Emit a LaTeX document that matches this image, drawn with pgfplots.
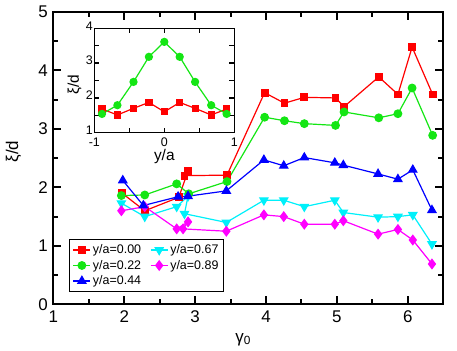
\documentclass[border=0pt]{standalone}
\usepackage{fontspec}
\setmainfont{Liberation Sans}
\usepackage{pgfplots}
\pgfplotsset{compat=1.18}
\definecolor{cred}{RGB}{255,0,0}
\definecolor{cgreen}{RGB}{20,230,20}
\definecolor{cblue}{RGB}{0,0,255}
\definecolor{ccyan}{RGB}{0,240,250}
\definecolor{cmag}{RGB}{255,0,255}

\pgfplotsset{
  common/.style={
    scale only axis,
    /pgf/number format/assume math mode=true,
    tick align=inside,
    minor tick num=1,
    tick style={black},
  },
  sq/.style={cred, line width=1.2bp, mark=square*, mark size=3.3bp, mark options={solid}},
  ci/.style={cgreen, line width=1.2bp, mark=*, mark size=3.8bp, mark options={solid}},
  tu/.style={cblue, line width=1.2bp, mark=triangle*, mark size=4.6bp, mark options={solid}},
  td/.style={ccyan, line width=1.2bp, mark=triangle*, mark size=4.6bp, mark options={solid, rotate=180}},
  di/.style={cmag, line width=1.2bp, mark=diamond*, mark size=4.6bp, mark options={solid}},
}

\begin{document}
\begin{tikzpicture}
\useasboundingbox (0,0) rectangle (457bp,351bp);
\begin{axis}[
  common,
  at={(53.3bp,46.7bp)}, anchor=south west,
  width=390bp, height=292.3bp,
  xmin=1, xmax=6.5, ymin=0, ymax=5,
  xtick={1,2,3,4,5,6}, ytick={0,1,2,3,4,5},
  axis line style={line width=2.2bp},
  major tick length=8bp, minor tick length=5bp,
  every tick/.style={line width=2bp, black},
  tick label style={font=\fontsize{17}{17}\selectfont},
  xticklabel style={yshift=-3bp},
  yticklabel style={xshift=-2bp},
  xlabel={γ\textsubscript{0}},
  ylabel={ξ/d},
  label style={font=\fontsize{17}{17}\selectfont},
  x label style={at={(axis description cs:0.487,-0.12)}, anchor=center},
  y label style={at={(axis description cs:-0.102,0.522)}, anchor=center},
  legend columns=2,
  legend cell align=left,
  legend style={at={(0.041,0.043)}, anchor=south west, draw=black, line width=1bp,
    font=\fontsize{12.5}{14}\selectfont, inner sep=3bp, row sep=1bp,
    /tikz/every even column/.append style={column sep=7bp}},
]
\addplot[sq] coordinates {
(1.97,1.90) (2.29,1.60) (2.77,1.83) (2.90,2.28) (2.85,2.20) (3.45,2.21)
(3.98,3.62) (4.26,3.44) (4.54,3.54) (4.98,3.53) (5.10,3.38) (5.59,3.89)
(5.86,3.59) (6.06,4.40) (6.35,3.59)};
\addlegendentry{y/a=0.00}
\addplot[td] coordinates {
(1.96,1.73) (2.29,1.50) (2.74,1.67) (2.90,1.85) (2.85,1.55) (3.44,1.40)
(3.97,1.78) (4.25,1.78) (4.54,1.67) (4.97,1.78) (5.09,1.57) (5.58,1.49)
(5.86,1.50) (6.07,1.53) (6.34,1.03)};
\addlegendentry{y/a=0.67}
\addplot[ci] coordinates {
(1.96,1.86) (2.29,1.87) (2.74,2.06) (2.91,1.89) (3.45,2.10)
(3.98,3.20) (4.26,3.14) (4.54,3.09) (4.98,3.06) (5.10,3.29) (5.59,3.19)
(5.86,3.26) (6.06,3.70) (6.35,2.89)};
\addlegendentry{y/a=0.22}
\addplot[di] coordinates {
(1.96,1.60) (2.29,1.67) (2.74,1.29) (2.90,1.41) (2.83,1.29) (3.44,1.25)
(3.97,1.53) (4.25,1.50) (4.54,1.37) (4.97,1.37) (5.09,1.43) (5.58,1.20)
(5.86,1.28) (6.07,1.10) (6.34,0.69)};
\addlegendentry{y/a=0.89}
\addplot[tu] coordinates {
(1.98,2.12) (2.27,1.69) (2.76,1.84) (2.90,1.85) (3.44,1.94)
(3.97,2.47) (4.25,2.37) (4.54,2.51) (4.97,2.42) (5.09,2.38) (5.58,2.23)
(5.86,2.14) (6.07,2.30) (6.34,1.61)};
\addlegendentry{y/a=0.44}
\end{axis}

% inset
\begin{axis}[
  common,
  at={(94.3bp,218.3bp)}, anchor=south west,
  width=140bp, height=104.4bp,
  xmin=-1, xmax=1, ymin=1, ymax=4,
  xtick={-1,0,1}, ytick={1,2,3,4},
  axis background/.style={fill=white},
  axis line style={line width=1.3bp},
  major tick length=5bp, minor tick length=5bp,
  every tick/.style={line width=1.3bp, black},
  tick label style={font=\fontsize{12.5}{12.5}\selectfont},
  xticklabel style={yshift=-1.5bp},
  yticklabel style={xshift=2bp, yshift=2.5bp},
  xlabel={y/a}, ylabel={ξ/d},
  label style={font=\fontsize{15.5}{15.5}\selectfont},
  x label style={at={(axis description cs:0.5,-0.225)}, anchor=center},
  y label style={at={(axis description cs:-0.14,0.46)}, anchor=center},
]
\addplot[sq, mark size=3bp] coordinates {
(-0.89,1.68) (-0.67,1.51) (-0.44,1.70) (-0.22,1.87) (0,1.60)
(0.22,1.87) (0.44,1.70) (0.67,1.51) (0.89,1.68)};
\addplot[ci, mark size=3.5bp] coordinates {
(-0.89,1.54) (-0.67,1.79) (-0.44,2.46) (-0.22,3.18) (0,3.61)
(0.22,3.18) (0.44,2.46) (0.67,1.79) (0.89,1.54)};
\end{axis}
\end{tikzpicture}
\end{document}
